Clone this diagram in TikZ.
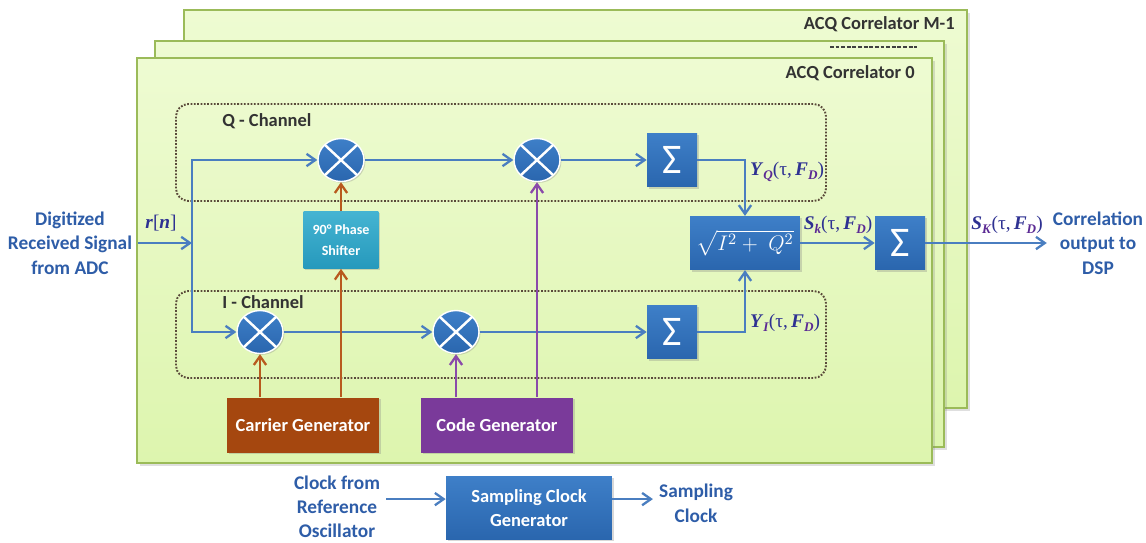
\documentclass[tikz,border=0pt]{standalone}
\usepackage{fontspec}
\setmainfont{Carlito}
\newfontfamily\lblfont{Liberation Serif}
\usepackage{amsmath}
\usetikzlibrary{arrows.meta,shadows,shapes.geometric}

\definecolor{panelfillA}{HTML}{EEFBD2}
\definecolor{panelfillB}{HTML}{DDF5AE}
\definecolor{panelline}{HTML}{9BBB59}
\definecolor{boxblue}{HTML}{2A66AE}
\definecolor{boxblueL}{HTML}{3E7FC8}
\definecolor{sigblue}{HTML}{4A7EC0}
\definecolor{txtblue}{HTML}{2E5DA8}
\definecolor{mathcol}{HTML}{2E3192}
\definecolor{subcol}{HTML}{5B2A94}
\definecolor{carrier}{HTML}{A5470F}
\definecolor{carrierL}{HTML}{B85A1E}
\definecolor{codecol}{HTML}{7A3A9A}
\definecolor{codeL}{HTML}{8A4AAA}
\definecolor{phase}{HTML}{2699BC}
\definecolor{phaseL}{HTML}{45B4D2}
\definecolor{dotcol}{HTML}{5A4A3A}

% bold italic letter, and a lowered bold italic subscript
\newcommand{\bi}[1]{\textbf{\textit{#1}}}
\newcommand{\lowsub}[1]{\raisebox{-0.4ex}{\fontsize{7.5}{8}\selectfont\color{subcol}\bi{#1}}}
% signal name with (tau, F_D) argument
\newcommand{\corrlbl}[2]{\bi{#1}\lowsub{#2}(τ,\,\bi{F}\lowsub{D})}

\begin{document}
\begin{tikzpicture}[x=0.02cm,y=-0.02cm,
  panel/.style={draw=panelline,line width=1.2pt,top color=panelfillA,bottom color=panelfillB,
    drop shadow={opacity=0.25,shadow xshift=1.5pt,shadow yshift=-1.5pt}},
  chan/.style={draw=dotcol,line width=1.1pt,dash pattern=on 1pt off 0.9pt,rounded corners=0.25cm},
  blk/.style={rectangle,inner sep=2pt,text=white,font=\bfseries,align=center,
    drop shadow={opacity=0.3,shadow xshift=1pt,shadow yshift=-1pt}},
  bluebox/.style={blk,top color=boxblueL,bottom color=boxblue},
  sumbox/.style={bluebox,minimum width=1.0cm,minimum height=1.07cm,font=\fontsize{24}{24}\selectfont},
  mixer/.style={ellipse,minimum width=0.92cm,minimum height=0.86cm,inner sep=0pt,
    top color=boxblueL,bottom color=boxblue,draw=white,line width=0.8pt,
    drop shadow={opacity=0.3,shadow xshift=0.8pt,shadow yshift=-0.8pt},
    path picture={\draw[white,line width=1.4pt]
      (path picture bounding box.north west)--(path picture bounding box.south east)
      (path picture bounding box.north east)--(path picture bounding box.south west);}},
  sig/.style={draw=sigblue,line width=1.3pt,-{Straight Barb[length=5pt,width=7pt]}},
  carline/.style={draw=carrierL,line width=1.3pt,-{Straight Barb[length=5pt,width=7pt]}},
  codeline/.style={draw=codeL,line width=1.3pt,-{Straight Barb[length=5pt,width=7pt]}},
  bluetext/.style={text=txtblue,font=\fontsize{11}{14}\selectfont\bfseries,align=center},
  mlabel/.style={text=mathcol,font=\lblfont\fontsize{11}{12}\selectfont,inner sep=1pt},
  head/.style={text=black!80,font=\fontsize{10.5}{13}\selectfont\bfseries,inner sep=0pt},
  genbox/.style={blk,minimum width=3.05cm,minimum height=1.1cm,font=\fontsize{10.5}{13}\selectfont\bfseries}
]
\useasboundingbox[fill=white] (0,0) rectangle (1146,542);

% stacked correlator panels, back to front
\path[panel] (184,10) rectangle (967,408);
\node[head,anchor=east] (tM) at (955,24) {ACQ Correlator M-1};
\path[panel] (155,41) rectangle (944,447);
\draw[black!75,line width=0.9pt,dash pattern=on 2.2pt off 1pt] (830,47) -- (917,47);
\path[panel] (137,58) rectangle (932,463);
\node[head,anchor=east] (t0) at (915,73) {ACQ Correlator 0};

% channel groups
\draw[chan] (176,104) rectangle (826,201);
\draw[chan] (176,291) rectangle (826,378);
\node[head,anchor=west] (qlab) at (222,121) {Q - Channel};
\node[head,anchor=west] (ilab) at (222,302) {I - Channel};

% blocks
\node[mixer] (q1) at (341,160) {};
\node[mixer] (q2) at (537,160) {};
\node[mixer] (i1) at (260,332) {};
\node[mixer] (i2) at (456,332) {};
\node[sumbox] (qs) at (672,160) {Σ};
\node[sumbox] (is) at (672,332) {Σ};
\node[sumbox] (fs) at (900,243) {Σ};
\node[bluebox,minimum width=2.2cm,minimum height=1.07cm,font=\fontsize{13}{13}\selectfont] (sq) at (745,243) {$\sqrt{I^2+\;Q^2}$};
\node[blk,top color=phaseL,bottom color=phase,minimum width=1.5cm,minimum height=1.14cm,
  font=\fontsize{8}{12}\selectfont\bfseries] (ps) at (341,240) {90° Phase\\Shifter};
\node[genbox,fill=carrier] (cg) at (303,425) {Carrier Generator};
\node[genbox,fill=codecol] (kg) at (497,425) {Code Generator};
\node[bluebox,minimum width=3.32cm,minimum height=1.26cm,font=\fontsize{10.5}{14}\selectfont\bfseries] (sc) at (529,508) {Sampling Clock\\Generator};

% outside texts
\node[bluetext] (adc) at (70,243) {Digitized\\Received Signal\\from ADC};
\node[bluetext] (dsp) at (1098,243) {Correlation\\output to\\DSP};
\node[bluetext,font=\fontsize{11}{13.6}\selectfont\bfseries] (ref) at (337,507) {Clock from\\Reference\\Oscillator};
\node[bluetext] (sck) at (696,503) {Sampling\\Clock};

% input bus
\coordinate (bus) at (192,243);
\draw[sig] (adc.east) -- (bus);
\node[mlabel] (rn) at (161,223) {\bi{r}[\bi{n}]};
\draw[sig] (bus) |- (q1);
\draw[sig] (bus) |- (i1);

% Q and I paths
\draw[sig] (q1) -- (q2);
\draw[sig] (q2) -- (qs);
\draw[sig] (i1) -- (i2);
\draw[sig] (i2) -- (is);
\draw[sig] (qs.east) -| (sq.north);
\draw[sig] (is.east) -| (sq.south);
\node[mlabel,anchor=west] (yq) at (748,172) {\corrlbl{Y}{Q}};
\node[mlabel,anchor=west] (yi) at (748,323) {\corrlbl{Y}{I}};
\draw[sig] (sq) -- (fs);
\node[mlabel] (sk) at (838,225) {\corrlbl{S}{k}};
\draw[sig] (fs) -- (dsp.west);
\node[mlabel] (sK) at (1007,225) {\corrlbl{S}{K}};

% carrier and code feeds
\draw[carline] (i1 |- cg.north) -- (i1);
\draw[carline] (ps |- cg.north) -- (ps);
\draw[carline] (ps) -- (q1);
\draw[codeline] (i2 |- kg.north) -- (i2);
\draw[codeline] (q2 |- kg.north) -- (q2);

% sampling clock
\draw[sig] ([yshift=4.5pt]ref.east) coordinate (ck) -- (ck -| sc.west);
\draw[sig] (sc.east |- ck) -- (sck.west |- ck);
\end{tikzpicture}
\end{document}
